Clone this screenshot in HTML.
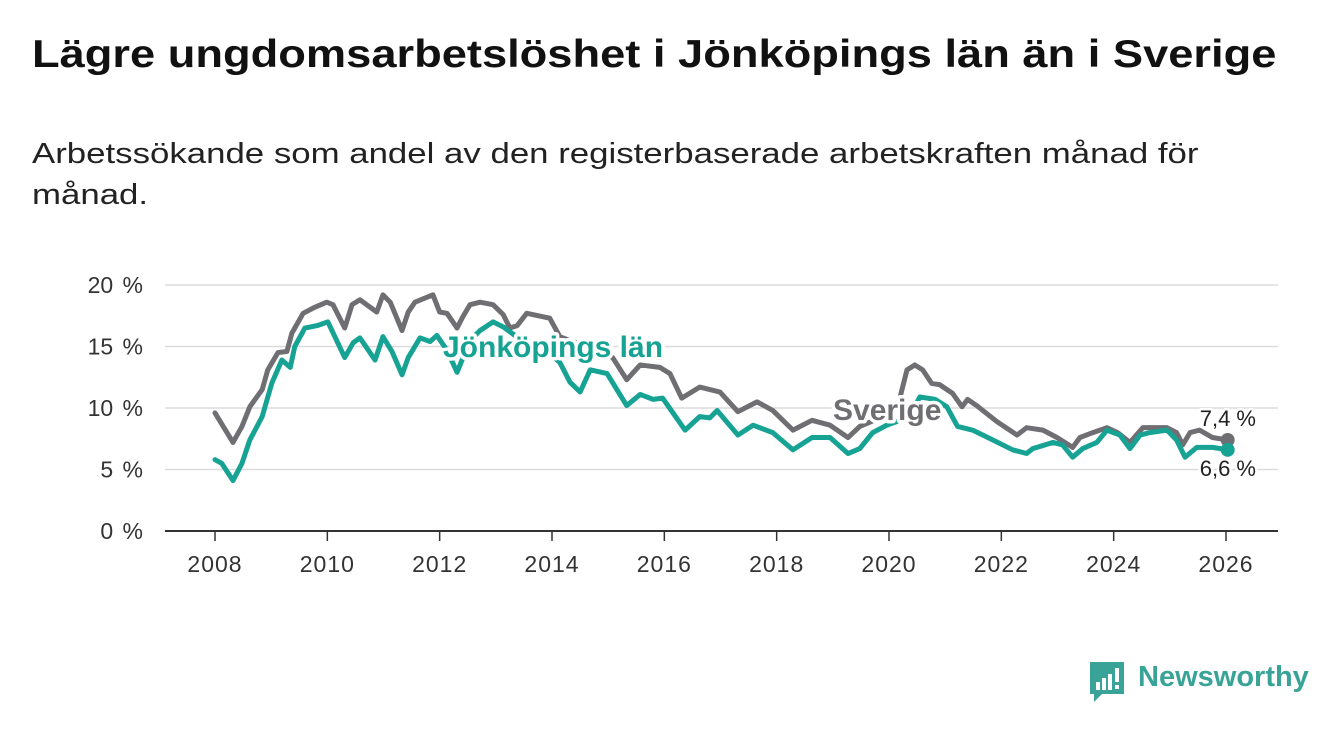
<!DOCTYPE html>
<html><head><meta charset="utf-8">
<style>
body{margin:0;width:1340px;height:734px;background:#fff;font-family:"Liberation Sans",sans-serif;overflow:hidden;position:relative}
h1{position:absolute;left:32px;top:33px;margin:0;font-size:39px;font-weight:bold;color:#111;white-space:nowrap;transform:scaleX(1.16);transform-origin:left top}
.sub{position:absolute;left:32px;top:134px;margin:0;font-size:29px;line-height:41px;color:#222;white-space:nowrap;transform:scaleX(1.2);transform-origin:left top}
svg{position:absolute;left:0;top:0}
</style></head><body>
<h1>Lägre ungdomsarbetslöshet i Jönköpings län än i Sverige</h1>
<p class="sub">Arbetssökande som andel av den registerbaserade arbetskraften månad för<br>månad.</p>
<svg id="chart" width="1340" height="734"></svg>
<div style="position:absolute;left:1088px;top:660px;">
<svg width="40" height="44" style="position:static"><path d="M2 2h34v32H14l-8 8v-8H2z" fill="#3aa397"/><rect x="8" y="22" width="4" height="8" fill="#fff"/><rect x="14" y="18" width="4" height="12" fill="#fff"/><rect x="20" y="14" width="4" height="16" fill="#fff"/><rect x="27" y="8" width="4" height="14" fill="#fff"/><rect x="27" y="25" width="4" height="4" fill="#fff"/></svg>
<span style="position:absolute;left:50px;top:1px;font-size:29px;color:#3aa397;font-weight:bold;white-space:nowrap">Newsworthy</span>
</div>
<script>
const yearTicks=[2008,2010,2012,2014,2016,2018,2020,2022,2024,2026];
const valueTicks=[0,5,10,15,20];
const sverigeDates=[2008.0,2008.32,2008.48,2008.62,2008.84,2008.94,2009.12,2009.28,2009.37,2009.57,2009.78,2009.99,2010.1,2010.31,2010.44,2010.58,2010.88,2010.99,2011.12,2011.33,2011.44,2011.56,2011.88,2012.0,2012.13,2012.31,2012.41,2012.54,2012.72,2012.95,2013.13,2013.25,2013.38,2013.55,2013.96,2014.14,2014.6,2015.08,2015.33,2015.57,2015.92,2016.1,2016.31,2016.63,2016.99,2017.31,2017.65,2017.93,2018.29,2018.63,2018.95,2019.27,2019.48,2019.84,2020.16,2020.32,2020.46,2020.6,2020.76,2020.9,2021.13,2021.3,2021.4,2021.56,2021.92,2022.28,2022.45,2022.74,2022.99,2023.27,2023.4,2023.63,2023.88,2024.07,2024.29,2024.52,2024.95,2025.12,2025.23,2025.36,2025.53,2025.76,2026.03];
const sverigeValues=[9.6,7.2,8.5,10.1,11.5,13.1,14.5,14.6,16.1,17.7,18.2,18.6,18.4,16.5,18.4,18.8,17.8,19.2,18.6,16.3,17.8,18.6,19.2,17.8,17.7,16.5,17.4,18.4,18.6,18.4,17.6,16.5,16.7,17.7,17.3,15.8,15.0,14.1,12.3,13.5,13.3,12.8,10.8,11.7,11.3,9.7,10.5,9.8,8.2,9.0,8.6,7.6,8.5,9.2,10.2,13.1,13.5,13.1,12.0,11.9,11.2,10.1,10.7,10.2,8.9,7.8,8.4,8.2,7.6,6.8,7.6,8.0,8.4,8.0,7.2,8.4,8.4,8.0,7.0,8.0,8.2,7.6,7.4];
const jkpDates=[2008.0,2008.12,2008.32,2008.48,2008.62,2008.84,2009.01,2009.19,2009.34,2009.42,2009.6,2009.82,2010.01,2010.31,2010.46,2010.58,2010.85,2010.99,2011.15,2011.33,2011.44,2011.65,2011.83,2011.95,2012.13,2012.31,2012.54,2012.72,2012.95,2013.13,2013.34,2013.79,2014.14,2014.32,2014.5,2014.68,2014.98,2015.33,2015.57,2015.8,2015.97,2016.37,2016.63,2016.81,2016.94,2017.31,2017.58,2017.93,2018.29,2018.63,2018.95,2019.27,2019.48,2019.71,2019.96,2020.14,2020.37,2020.55,2020.82,2021.03,2021.22,2021.49,2021.85,2022.2,2022.45,2022.56,2022.92,2023.09,2023.27,2023.45,2023.7,2023.88,2024.11,2024.29,2024.47,2024.64,2024.95,2025.12,2025.27,2025.48,2025.76,2026.03];
const jkpValues=[5.8,5.5,4.1,5.5,7.4,9.3,12.0,13.9,13.3,15.0,16.5,16.7,17.0,14.1,15.3,15.7,13.9,15.8,14.6,12.7,14.1,15.7,15.4,15.9,14.7,12.9,15.5,16.3,17.0,16.6,15.9,15.1,13.7,12.1,11.3,13.1,12.8,10.2,11.1,10.7,10.8,8.2,9.3,9.2,9.8,7.8,8.6,8.0,6.6,7.6,7.6,6.3,6.7,8.0,8.6,8.9,9.4,10.9,10.7,10.1,8.5,8.2,7.4,6.6,6.3,6.7,7.2,7.0,6.0,6.7,7.2,8.2,7.8,6.7,7.8,8.0,8.2,7.4,6.0,6.8,6.8,6.6];

const svg=document.getElementById('chart');
const NS='http://www.w3.org/2000/svg';
const X=d=>215+(d-2008)*(1011/18);
const Y=v=>531-v*12.3;
function el(tag,attrs,parent){const e=document.createElementNS(NS,tag);for(const k in attrs)e.setAttribute(k,attrs[k]);(parent||svg).appendChild(e);return e;}
valueTicks.forEach(v=>{
  if(v>0){const g=el('line',{x1:165,x2:1278,y1:Y(v),y2:Y(v),stroke:'#dcdcdc','stroke-width':1.5});
  
  }
  const t=el('text',{x:143,y:Y(v)+8,'text-anchor':'end','font-size':23,fill:'#333','font-family':'Liberation Sans, sans-serif','word-spacing':3});
  t.textContent=v+' %';
  
  
});
const ax=el('line',{x1:165,x2:1278,y1:531,y2:531,stroke:'#333','stroke-width':2});


yearTicks.forEach(y=>{
  const tk=el('line',{x1:X(y),x2:X(y),y1:531,y2:541,stroke:'#333','stroke-width':1.5});
  
  
  const t=el('text',{x:X(y),y:572,'text-anchor':'middle','font-size':23,fill:'#333','font-family':'Liberation Sans, sans-serif','letter-spacing':1});
  t.textContent=y;
  
  
});
function line(dates,vals,color,name){
  const p=el('polyline',{points:dates.map((d,i)=>X(d)+','+Y(vals[i])).join(' '),fill:'none',stroke:color,'stroke-width':5,'stroke-linejoin':'round','stroke-linecap':'round'});
  
  
  const n=dates.length-1;
  const c=el('circle',{cx:X(dates[n]),cy:Y(vals[n]),r:7,fill:color});
  
  
}
line(sverigeDates,sverigeValues,'#6f6e73','sverige-line');
line(jkpDates,jkpValues,'#16a394','jonkoping-line');
function label(x,y,txt,color,name,bold,size,anchor){
  const t=el('text',{x:x,y:y,'font-size':size,'font-weight':bold?'bold':'normal',fill:color,stroke:'#fff','stroke-width':bold?7:5,'paint-order':'stroke','stroke-linejoin':'round','text-anchor':anchor||'start','font-family':'Liberation Sans, sans-serif'});
  t.textContent=txt;
  
  
}
label(443,357,'Jönköpings län','#16a394','jonkoping-series-label',true,30);
label(833,420,'Sverige','#6f6e73','sverige-series-label',true,30);
const ns=sverigeValues.length-1, nj=jkpValues.length-1;
label(1256,426,sverigeValues[ns].toFixed(1).replace('.',',')+' %','#222','sverige-end-value',false,22,'end');
label(1256,476,jkpValues[nj].toFixed(1).replace('.',',')+' %','#222','jonkoping-end-value',false,22,'end');
</script>
</body></html>
